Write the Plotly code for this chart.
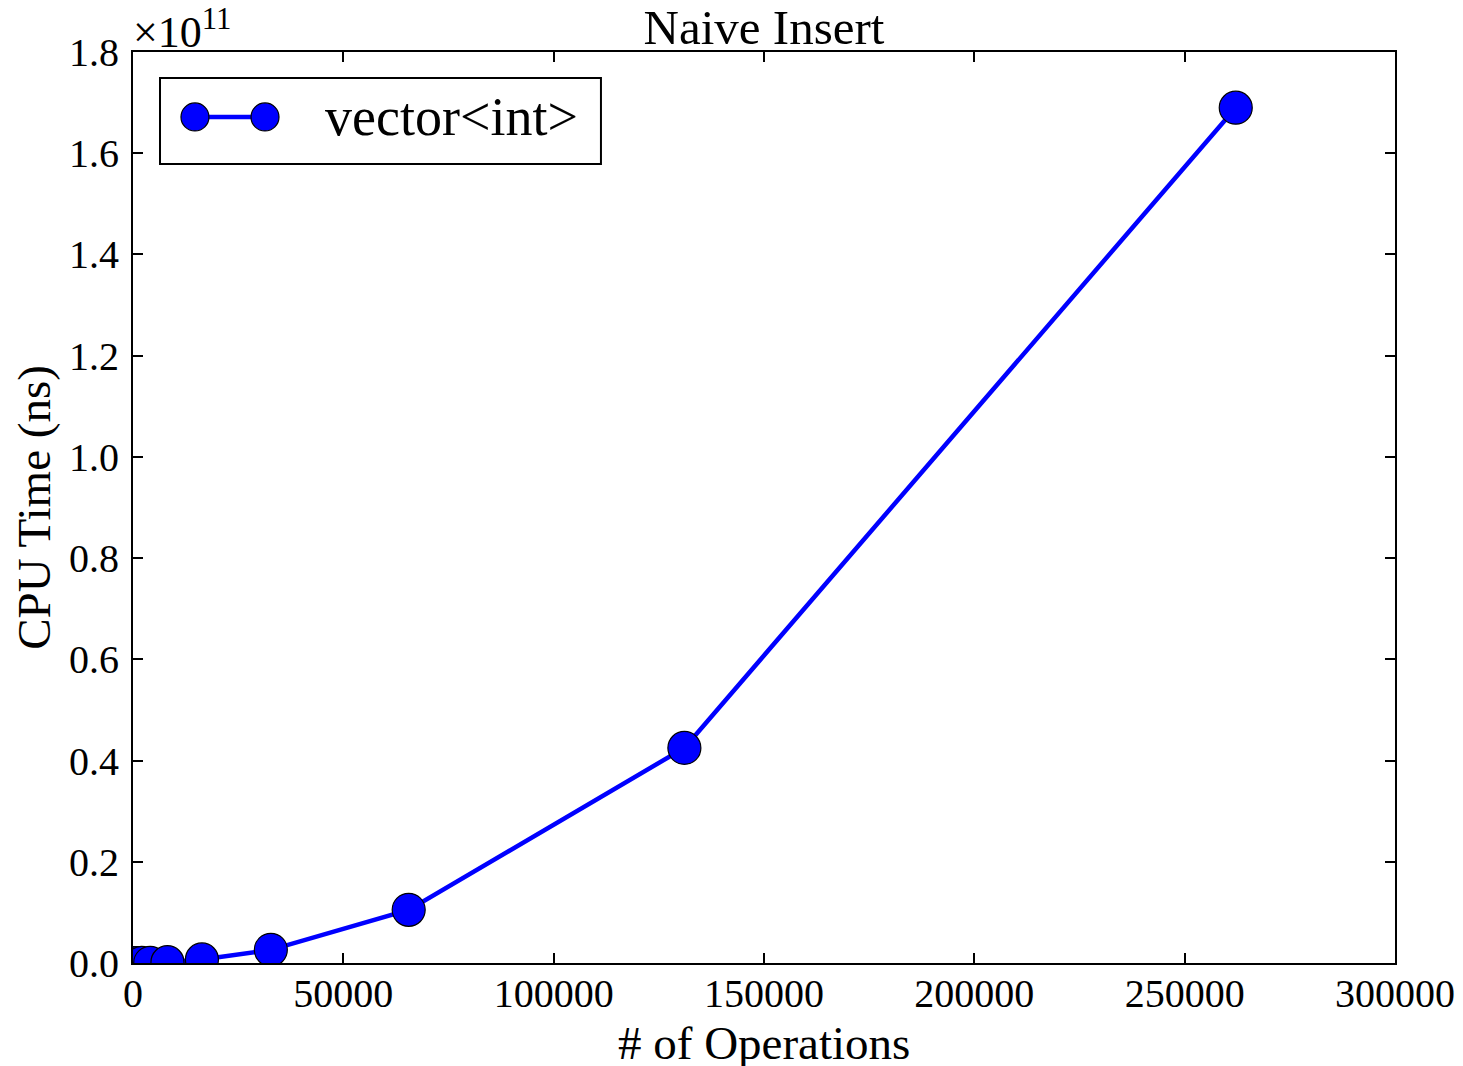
import plotly.graph_objects as go

# Data
ops = [512, 1024, 2048, 4096, 8192, 16384, 32768, 65536, 131072, 262144]
cpu_ns = [1.0e6, 3.0e6, 1.0e7, 4.0e7, 1.6e8, 7.0e8, 2.6e9, 1.05e10, 4.25e10, 1.69e11]
series_name = "vector<int>"
x_ticks = [0, 50000, 100000, 150000, 200000, 250000, 300000]
y_ticks = [0.0, 0.2e11, 0.4e11, 0.6e11, 0.8e11, 1.0e11, 1.2e11, 1.4e11, 1.6e11, 1.8e11]
y_tick_text = ["0.0", "0.2", "0.4", "0.6", "0.8", "1.0", "1.2", "1.4", "1.6", "1.8"]

FONT = "Liberation Serif"
BLUE = "#0000ff"

# page body has an 8px margin; figure offset by 8px from the page corner
W, H = 1455, 1058

fig = go.Figure()
fig.add_trace(go.Scatter(
    x=ops, y=cpu_ns, mode="lines+markers", name=series_name,
    line=dict(color=BLUE, width=4.5),
    marker=dict(size=33, color=BLUE, line=dict(color="black", width=1.2)),
    cliponaxis=True, showlegend=False,
))

axis_common = dict(
    showline=True, linecolor="black", linewidth=2, mirror="allticks",
    ticks="inside", ticklen=10, tickwidth=1.5, tickcolor="black",
    showgrid=False, zeroline=False, automargin=False,
    tickfont=dict(family=FONT, size=40, color="black"),
)

fig.update_layout(
    width=W, height=H,
    margin=dict(l=125, r=68, t=44, b=103, autoexpand=False),
    paper_bgcolor="white", plot_bgcolor="white",
    font=dict(family=FONT, color="black"),
    title=dict(text="Naive Insert", x=(764 - 8) / W, xanchor="center",
               y=1 - 19 / H, yanchor="middle",
               font=dict(family=FONT, size=49, color="black")),
    xaxis=dict(range=[0, 300000], tickvals=x_ticks,
               ticktext=[str(v) for v in x_ticks], ticklabelstandoff=-6,
               ticklabeloverflow="allow",
               **axis_common),
    yaxis=dict(range=[0, 1.8e11], tickvals=y_ticks, ticktext=y_tick_text,
               ticklabelstandoff=4, ticklabeloverflow="allow",
               title=dict(text="CPU Time (ns)", standoff=12,
                          font=dict(family=FONT, size=47, color="black")),
               **axis_common),
)

# x axis title
fig.add_annotation(xref="paper", yref="paper", x=0.5, y=-0.0878, xanchor="center", yanchor="middle",
                   text="# of Operations", showarrow=False,
                   font=dict(family=FONT, size=47, color="black"))

# x10^11 offset label
fig.add_annotation(xref="paper", yref="paper", x=0.0, y=1.0, xanchor="left", yanchor="bottom",
                   text="×10<sup>11</sup>", showarrow=False, yshift=-7, xshift=-2,
                   font=dict(family=FONT, size=44, color="black"))

# Legend (drawn manually to match matplotlib style)
lx0, lx1, ly0, ly1 = 0.0214, 0.3708, 0.877, 0.9714
fig.add_shape(type="rect", xref="paper", yref="paper", x0=lx0, x1=lx1, y0=ly0, y1=ly1,
              line=dict(color="black", width=2), fillcolor="white", layer="above")
ly = 0.9287
sx0, sx1 = 0.0491, 0.1046
fig.add_shape(type="line", xref="paper", yref="paper", x0=sx0, x1=sx1, y0=ly, y1=ly,
              line=dict(color=BLUE, width=4.5), layer="above")
for sx in (sx0, sx1):
    fig.add_shape(type="circle", xref="paper", yref="paper", xsizemode="pixel", ysizemode="pixel",
                  xanchor=sx, yanchor=ly, x0=-14, x1=14, y0=-14, y1=14,
                  fillcolor=BLUE, line=dict(color="black", width=1.2), layer="above")
fig.add_annotation(xref="paper", yref="paper", x=0.1506, y=ly, xanchor="left", yanchor="middle",
                   text="vector&lt;int&gt;", showarrow=False,
                   font=dict(family=FONT, size=54, color="black"))

fig.write_html("out.html")
